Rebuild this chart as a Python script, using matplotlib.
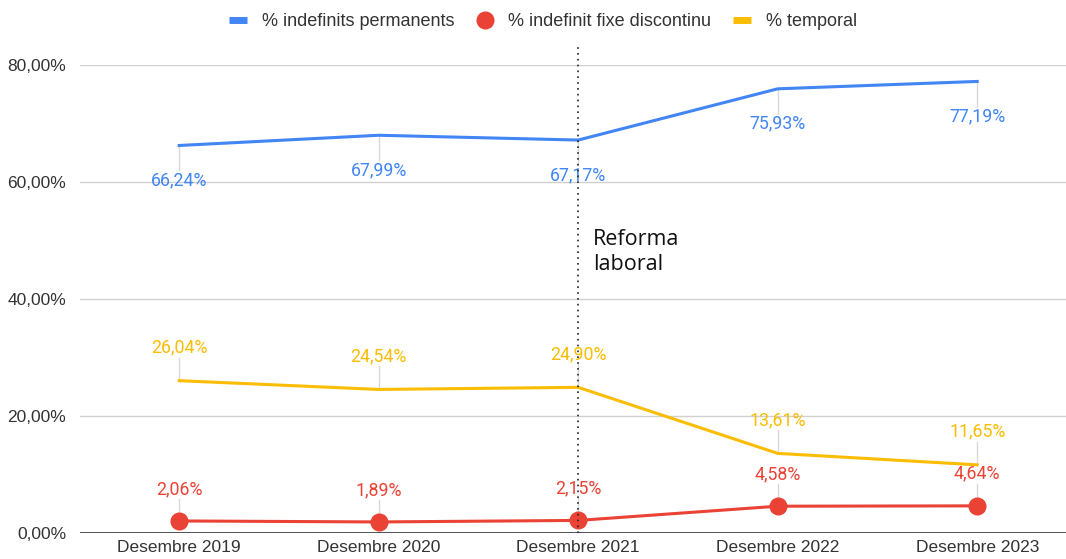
import matplotlib
matplotlib.use("Agg")
import matplotlib.pyplot as plt
from matplotlib.lines import Line2D

categories = ["Desembre 2019", "Desembre 2020", "Desembre 2021", "Desembre 2022", "Desembre 2023"]
permanents = [66.24, 67.99, 67.17, 75.93, 77.19]
fixe_discontinu = [2.06, 1.89, 2.15, 4.58, 4.64]
temporal = [26.04, 24.54, 24.90, 13.61, 11.65]
series_names = ["% indefinits permanents", "% indefinit fixe discontinu", "% temporal"]
yticks = [0, 20, 40, 60, 80]
annotation_text = "Reforma\nlaboral"
annotation_index = 2

BLUE = "#4285F4"
RED = "#EA4335"
YELLOW = "#FBBC04"

plt.rcParams['font.family'] = ['Liberation Sans', 'DejaVu Sans']

fig = plt.figure(figsize=(10.66, 5.59), dpi=100)
ax = fig.add_axes([80/1066, 1-533/559, 1-80/1066, (533-65)/559])

x = list(range(len(categories)))
ax.set_xlim(-0.497, 4.445)
ax.set_ylim(0, 80)

for y in yticks[1:]:
    ax.axhline(y, color="#d0d0d0", lw=1, zorder=0)
ax.axhline(0, color="#333333", lw=1.2, zorder=3)

ax.plot(x, permanents, color=BLUE, lw=2.2, zorder=4, solid_joinstyle="round")
ax.plot(x, temporal, color=YELLOW, lw=2.2, zorder=4, solid_joinstyle="round")
ax.plot(x, fixe_discontinu, color=RED, lw=2.2, zorder=4, marker="o", markersize=13,
        markeredgewidth=0, solid_joinstyle="round")

def fmt(v):
    return f"{v:.2f}".replace(".", ",") + "%"

ppu = 468/80.0  # pixels per unit
def add_labels(vals, color, offset_px):
    for xi, v in zip(x, vals):
        ly = v + offset_px / ppu
        end = ly - (10 if offset_px > 0 else -10) / ppu
        ax.plot([xi, xi], [v, end], color="#d8d8d8", lw=1, zorder=2)
        ax.text(xi, ly, fmt(v), color=color, fontsize=12.8, family=["Roboto", "DejaVu Sans"],
                ha="center", va="center", zorder=5)

add_labels(permanents, BLUE, -35)
add_labels(temporal, YELLOW, 33)
add_labels(fixe_discontinu, RED, 32)

# reference line
ax.plot([annotation_index, annotation_index], [0, 80 + 20/ppu], color="#222222", lw=1.2,
        linestyle=(0, (1, 2.5)), zorder=6, clip_on=False)
ax.text(annotation_index + 15/199.5, 48.0, annotation_text, fontsize=15.5, family="Open Sans",
        color="#111111", ha="left", va="center", linespacing=1.25)

ax.set_xticks(x)
ax.set_xticklabels(categories, fontsize=12.5, color="#333333")
ax.set_yticks(yticks)
ax.set_yticklabels([f"{v:.2f}".replace(".", ",") + "%" for v in yticks], fontsize=12.5, color="#333333")
ax.tick_params(length=0, pad=5)
ax.tick_params(axis="y", pad=10)
for s in ax.spines.values():
    s.set_visible(False)

handles = [
    Line2D([], [], color=BLUE, lw=5, solid_capstyle="butt"),
    Line2D([], [], color=RED, lw=0, marker="o", markersize=13, markeredgewidth=0),
    Line2D([], [], color=YELLOW, lw=5, solid_capstyle="butt"),
]
fig.legend(handles, series_names, loc="center", bbox_to_anchor=(543/1066, 1-22/559), ncol=3,
           frameon=False, fontsize=13, handlelength=1.0, handletextpad=0.8, columnspacing=1.2,
           labelcolor="#333333")

fig.savefig("out.png", dpi=100)
